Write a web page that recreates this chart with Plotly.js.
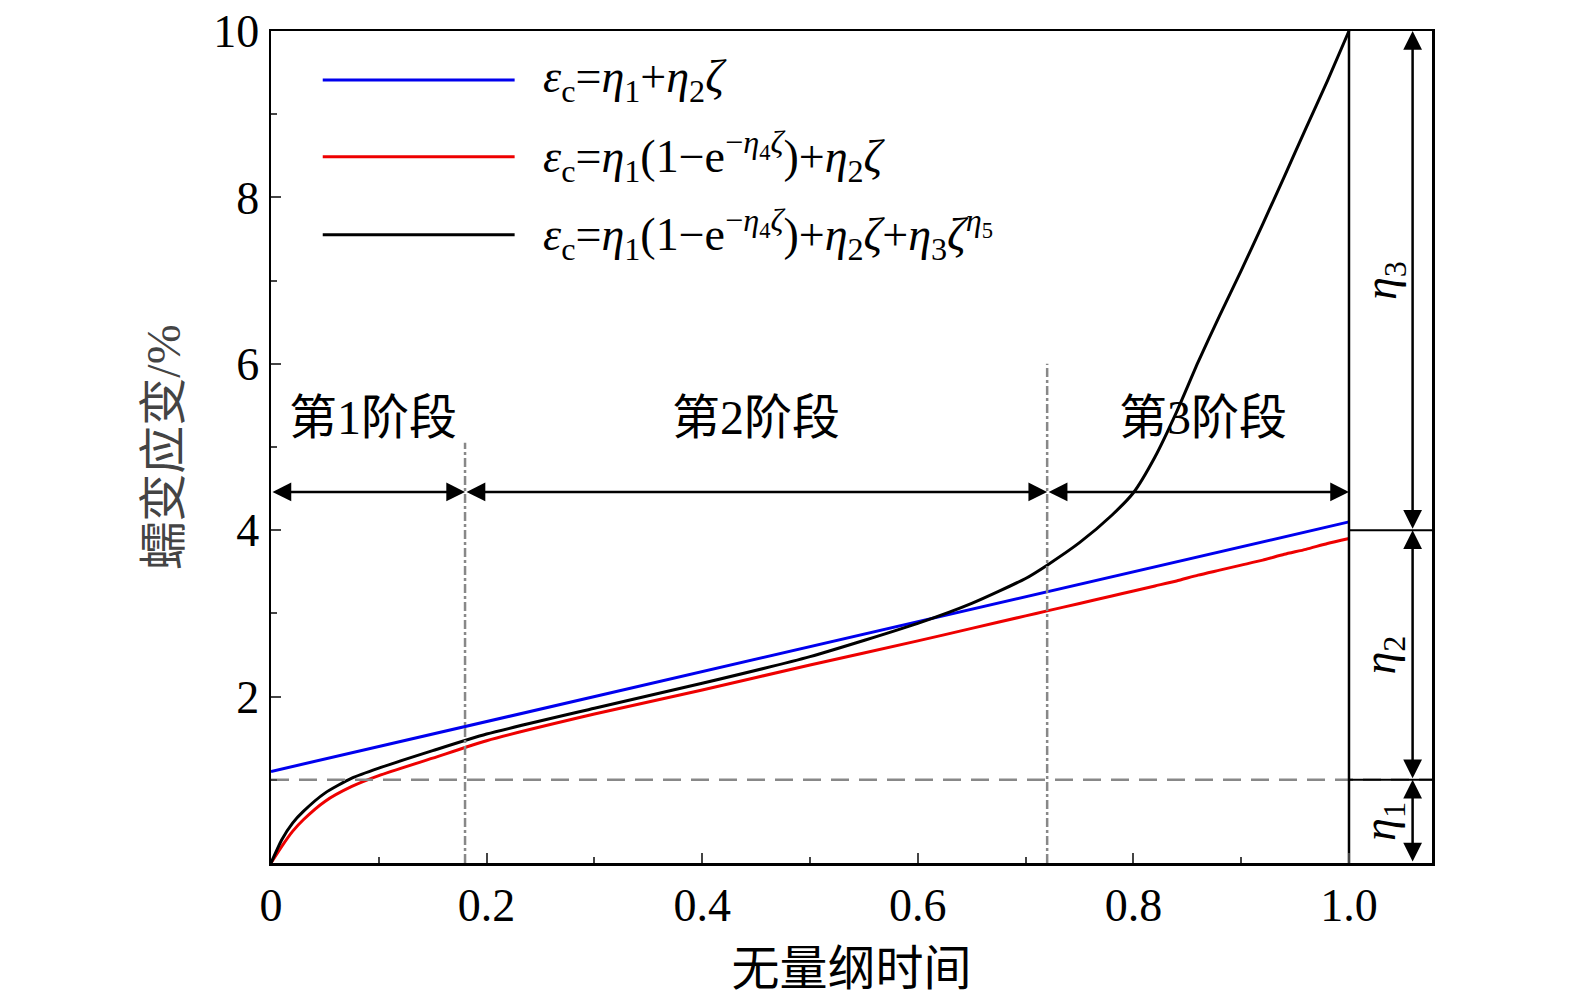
<!DOCTYPE html>
<html><head><meta charset="utf-8">
<script src="https://cdn.plot.ly/plotly-3.0.1.min.js"></script>
<style>body{margin:0;background:#fff}#c{width:1575px;height:1007px}</style>
</head><body><div id="c"></div>
<script>
// values
const zeta = [0, 0.01, 0.02, 0.03, 0.05, 0.075, 0.1, 0.15, 0.2, 0.3, 0.4, 0.5, 0.6, 0.65, 0.7, 0.72, 0.75, 0.78, 0.8, 0.82, 0.84, 0.86, 0.88, 0.9, 0.92, 0.94, 0.96, 0.98, 1.0];
const blueLin = [1.1, 1.13, 1.16, 1.19, 1.25, 1.32, 1.4, 1.55, 1.7, 2.0, 2.3, 2.6, 2.9, 3.05, 3.2, 3.26, 3.35, 3.44, 3.5, 3.56, 3.62, 3.68, 3.74, 3.8, 3.86, 3.92, 3.98, 4.04, 4.1];
const redDec = [0, 0.2, 0.38, 0.52, 0.74, 0.92, 1.05, 1.26, 1.47, 1.79, 2.08, 2.38, 2.67, 2.82, 2.97, 3.03, 3.12, 3.21, 3.27, 3.33, 3.39, 3.46, 3.52, 3.58, 3.64, 3.71, 3.77, 3.84, 3.9];
const blackFull = [0, 0.28, 0.48, 0.62, 0.84, 1.02, 1.14, 1.35, 1.55, 1.86, 2.16, 2.48, 2.88, 3.12, 3.42, 3.58, 3.85, 4.18, 4.45, 4.88, 5.42, 6.02, 6.58, 7.12, 7.68, 8.25, 8.83, 9.4, 10];
const stageX = [0.18, 0.72];
const stageTop = [5.05, 6.0];
const stageNames = ['第1阶段', '第2阶段', '第3阶段'];
const stageLabelX = [0.095, 0.45, 0.865];
const etaBounds = [0, 1, 4, 10];
const xTicks = [0, 0.2, 0.4, 0.6, 0.8, 1.0];
const xTickText = ['0', '0.2', '0.4', '0.6', '0.8', '1.0'];
const yTicks = [2, 4, 6, 8, 10];

const serif = 'Liberation Serif, Noto Sans CJK SC, serif';
const traces = [
  { x: zeta, y: blueLin, mode: 'lines', line: { color: '#0000ee', width: 3 } },
  { x: zeta, y: redDec, mode: 'lines', line: { color: '#ee0000', width: 3, shape: 'spline', smoothing: 0.6 } },
  { x: zeta, y: blackFull, mode: 'lines', line: { color: '#000', width: 3, shape: 'spline', smoothing: 0.6 } },
  { x: [0, 1.08], y: [1, 1], mode: 'lines', line: { color: '#888', width: 2.5, dash: '18px,10px' } },
];
stageX.forEach((sx, i) => traces.push({ x: [sx, sx], y: [0, stageTop[i]], mode: 'lines', line: { color: '#888', width: 2.5, dash: 'dashdot' } }));
traces.push({ x: [1, 1], y: [0, 10], mode: 'lines', line: { color: '#000', width: 2.5 } });
[1, 4].forEach(v => traces.push({ x: [1, 1.08], y: [v, v], mode: 'lines', line: { color: '#000', width: 2 } }));

const legendY = [9.41, 8.49, 7.55];
const legendCol = ['#0000ee', '#ee0000', '#000'];
legendY.forEach((ly, i) => traces.push({ x: [0.048, 0.226], y: [ly, ly], mode: 'lines', line: { color: legendCol[i], width: 3 } }));

const legendTxt = [
  '<i>ε</i><sub>c</sub>=<i>η</i><sub>1</sub>+<i>η</i><sub>2</sub><i>ζ</i>',
  '<i>ε</i><sub>c</sub>=<i>η</i><sub>1</sub>(1−e<sup>−<i>η</i><sub>4</sub><i>ζ</i></sup>)+<i>η</i><sub>2</sub><i>ζ</i>',
  '<i>ε</i><sub>c</sub>=<i>η</i><sub>1</sub>(1−e<sup>−<i>η</i><sub>4</sub><i>ζ</i></sup>)+<i>η</i><sub>2</sub><i>ζ</i>+<i>η</i><sub>3</sub><i>ζ</i><sup><i>η</i><sub>5</sub></sup>',
];
const ann = legendTxt.map((t, i) => ({ x: 0.25, y: legendY[i], xanchor: 'left', yanchor: 'middle', text: t, showarrow: false, font: { size: 46, family: serif, color: '#000' } }));
stageNames.forEach((t, i) => ann.push({ x: stageLabelX[i], y: 5.35, text: t, showarrow: false, font: { size: 48, family: serif, color: '#000' } }));

function dblArrow(x0, y0, x1, y1) {
  ann.push({ x: x1, y: y1, ax: x0, ay: y0, axref: 'x', ayref: 'y', xref: 'x', yref: 'y', text: '', showarrow: true,
    arrowhead: 2, startarrowhead: 2, arrowside: 'end+start', arrowsize: 1.5, arrowwidth: 2.5, arrowcolor: '#000' });
}
const bounds = [0, stageX[0], stageX[1], 1.0];
for (let i = 0; i < 3; i++) dblArrow(bounds[i], 4.46, bounds[i + 1], 4.46);
for (let i = 0; i < 3; i++) {
  dblArrow(1.059, etaBounds[i], 1.059, etaBounds[i + 1]);
  ann.push({ x: 1.032, y: (etaBounds[i] + etaBounds[i + 1]) / 2, text: '<i>η</i><sub>' + (i + 1) + '</sub>', textangle: -90,
    showarrow: false, font: { size: 46, family: serif, color: '#000' } });
}

const layout = {
  width: 1575, height: 1007, showlegend: false,
  paper_bgcolor: '#fff', plot_bgcolor: '#fff',
  margin: { l: 271, r: 143, t: 31, b: 144 },
  font: { family: serif, size: 46, color: '#000' },
  xaxis: { range: [0, 1.077], tickvals: xTicks, ticktext: xTickText, ticks: 'inside', ticklen: 10, tickwidth: 2,
    minor: { dtick: 0.1, ticks: 'inside', ticklen: 6, tickwidth: 2 },
    showline: true, linewidth: 2.5, linecolor: '#000', mirror: true, showgrid: false, zeroline: false,
    title: { text: '无量纲时间', font: { size: 48, family: serif }, standoff: 22 } },
  yaxis: { range: [0, 10], tickvals: yTicks, ticks: 'inside', ticklen: 10, tickwidth: 2,
    minor: { dtick: 1, ticks: 'inside', ticklen: 6, tickwidth: 2 },
    showline: true, linewidth: 2.5, linecolor: '#000', mirror: true, showgrid: false, zeroline: false,
    title: { text: '蠕变应变/%', font: { size: 48, family: serif, color: '#444' }, standoff: 18 } },
  annotations: ann,
};
Plotly.newPlot('c', traces, layout, { displayModeBar: false, staticPlot: true });
</script></body></html>
